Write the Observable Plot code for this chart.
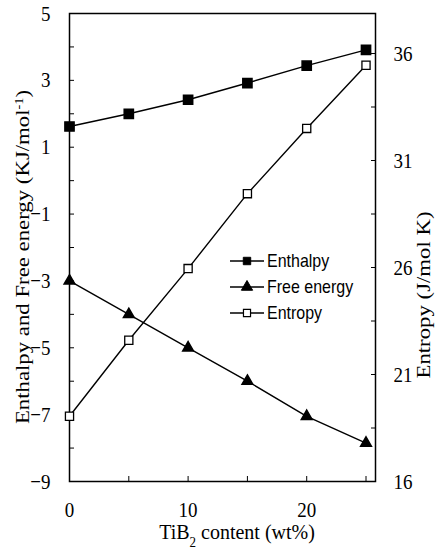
<!DOCTYPE html>
<html><head><meta charset="utf-8">
<script src="https://cdn.jsdelivr.net/npm/d3@7"></script>
<script src="https://cdn.jsdelivr.net/npm/@observablehq/plot@0.6"></script>
<style>body{margin:0;background:#fff}</style>
</head><body><div id="chart"></div>
<script>
// Data
const tib2 = [0, 5, 10, 15, 20, 25];
const enthalpy = [1.62, 2.0, 2.42, 2.92, 3.44, 3.91];
const freeEnergy = [-3.0, -4.0, -5.0, -6.0, -7.05, -7.85];
const entropy = [19.05, 22.6, 25.95, 29.45, 32.5, 35.45];
const xTickLabels = [0, 10, 20];
const xTickMarks = [0, 5, 10, 15, 20, 25];
const leftTickLabels = [-9, -7, -5, -3, -1, 1, 3, 5];
const leftTickMarks = [-9, -8, -7, -6, -5, -4, -3, -2, -1, 0, 1, 2, 3, 4, 5];
const rightTickLabels = [16, 21, 26, 31, 36];
const rightTickMarks = [16, 18.5, 21, 23.5, 26, 28.5, 31, 33.5, 36];
const seriesNames = ["Enthalpy", "Free energy", "Entropy"];

// right axis (entropy) mapped onto the left axis units
const toLeft = d3.scaleLinear().domain([16, 37.87]).range([-9, 5]);

const rowsH = tib2.map((x, i) => ({x, y: enthalpy[i]}));
const rowsG = tib2.map((x, i) => ({x, y: freeEnergy[i]}));
const rowsS = tib2.map((x, i) => ({x, y: toLeft(entropy[i]), s: entropy[i]}));

const blank = () => "";
const plot = Plot.plot({
  width: 438, height: 550,
  marginLeft: 69, marginRight: 63, marginTop: 13, marginBottom: 69,
  style: {fontFamily: "'Liberation Serif', serif", fontSize: "19px", color: "black", background: "white"},
  x: {domain: [0, 25.8]},
  y: {domain: [-9, 5]},
  marks: [
    Plot.axisX(xTickMarks, {tickSize: -5, tickFormat: blank, label: null}),
    Plot.axisX(xTickLabels, {tickSize: 0, tickPadding: 20, label: null}),
    Plot.axisY(leftTickMarks, {tickSize: -5, tickFormat: blank, label: null}),
    Plot.axisY(leftTickLabels, {tickSize: 0, tickPadding: 19, label: null}),
    Plot.axisY(rightTickMarks.map(toLeft), {anchor: "right", tickSize: -5, tickFormat: blank, label: null}),
    Plot.axisY(rightTickLabels.map(toLeft), {anchor: "right", tickSize: 0, tickPadding: 18, label: null,
      tickFormat: v => String(Math.round(toLeft.invert(v)))}),
    Plot.frame({stroke: "black", strokeWidth: 1.5}),
    Plot.line(rowsH, {x: "x", y: "y", stroke: "black", strokeWidth: 1.4}),
    Plot.line(rowsG, {x: "x", y: "y", stroke: "black", strokeWidth: 1.4}),
    Plot.line(rowsS, {x: "x", y: "y", stroke: "black", strokeWidth: 1.4}),
    Plot.dot(rowsH, {x: "x", y: "y", symbol: "square", r: 5.2, fill: "black", stroke: "black"}),
    Plot.dot(rowsG, {x: "x", y: "y", symbol: "triangle", r: 4, fill: "black", stroke: "black"}),
    Plot.dot(rowsS, {x: "x", y: "y", symbol: "square", r: 4.6, fill: "white", stroke: "black", strokeWidth: 1.3})
  ]
});
document.getElementById("chart").appendChild(plot);

const svg = d3.select(plot);
// the reference scan is stretched vertically: stretch the tick labels a little
svg.selectAll("g[aria-label$='tick label'] text").each(function() {
  const t = this.getAttribute("transform") || "";
  this.setAttribute("transform", t + " scale(1,1.15)");
});
// left axis title
const yt = svg.append("text").attr("transform", "translate(29,257) rotate(-90) scale(1.2,1)")
  .attr("text-anchor", "middle").attr("font-size", 19).attr("fill", "black");
yt.append("tspan").text("Enthalpy and Free energy (KJ/mol");
yt.append("tspan").attr("baseline-shift", "super").attr("font-size", 12).text("-1");
yt.append("tspan").text(")");
// right axis title
svg.append("text").attr("transform", "translate(430,295) rotate(-90) scale(1.2,1)")
  .attr("text-anchor", "middle").attr("font-size", 19).attr("fill", "black")
  .text("Entropy (J/mol K)");
// x axis title
const xt = svg.append("text").attr("transform", "translate(237,539) scale(1,1.1)")
  .attr("text-anchor", "middle").attr("font-size", 20).attr("fill", "black");
xt.append("tspan").text("TiB");
xt.append("tspan").attr("baseline-shift", "sub").attr("font-size", 13).text("2");
xt.append("tspan").text(" content (wt%)");

// legend
const sym = [d3.symbolSquare, d3.symbolTriangle, d3.symbolSquare];
const fills = ["black", "black", "white"];
const lg = svg.append("g").attr("font-family", "'Liberation Sans', Arial, sans-serif").attr("font-size", 16)
  .attr("text-anchor", "start");
seriesNames.forEach((name, i) => {
  const yy = 261 + i * 26;
  lg.append("line").attr("x1", 230).attr("x2", 264).attr("y1", yy).attr("y2", yy)
    .attr("stroke", "black").attr("stroke-width", 1.3);
  lg.append("path").attr("d", d3.symbol(sym[i], i === 2 ? 50 : 55)())
    .attr("transform", `translate(247,${yy})`).attr("fill", fills[i]).attr("stroke", "black")
    .attr("stroke-width", i === 2 ? 1.2 : 1);
  lg.append("text").attr("x", 267).attr("y", yy).attr("dy", "0.35em").attr("fill", "black")
    .attr("text-anchor", "start")
    .attr("transform", `translate(0,${yy}) scale(1,1.15) translate(0,${-yy})`).text(name);
});
</script></body></html>
